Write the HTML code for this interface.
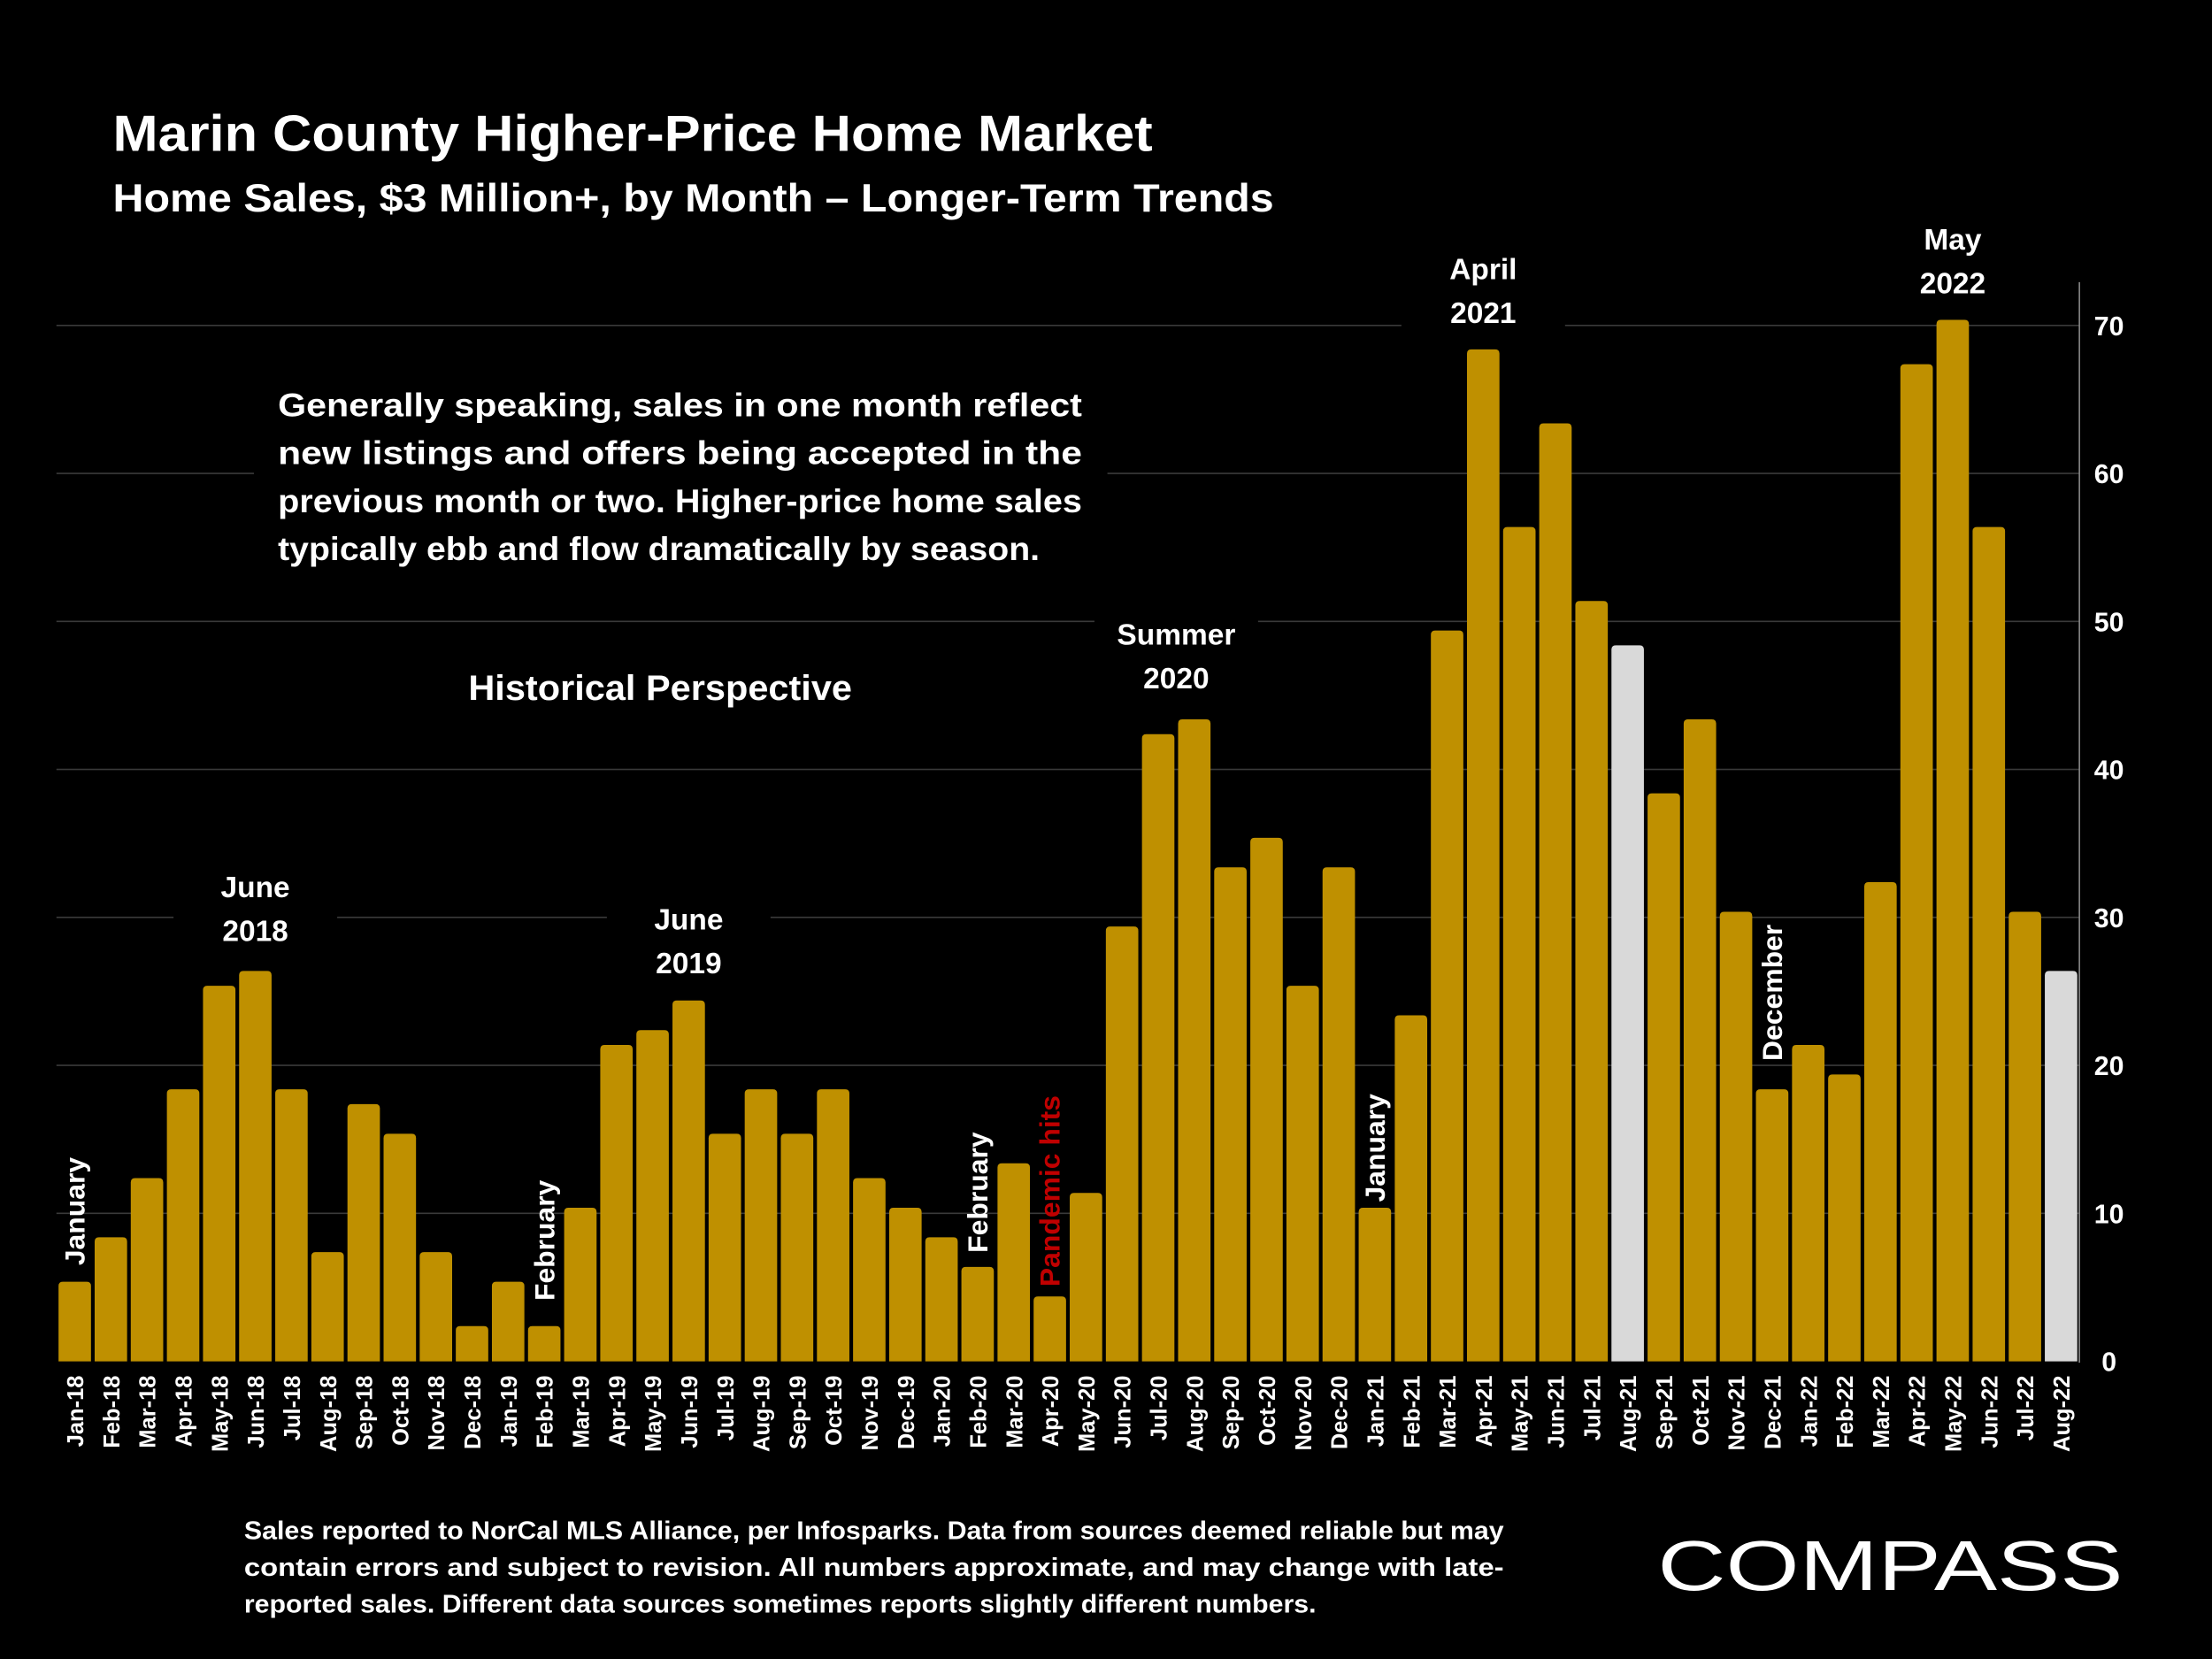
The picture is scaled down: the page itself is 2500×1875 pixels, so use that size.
<!DOCTYPE html>
<html><head><meta charset="utf-8"><style>
html,body{margin:0;padding:0;background:#000;}
svg{display:block;}
text{font-family:"Liberation Sans",sans-serif;font-weight:bold;fill:#fff;}
</style></head><body>
<svg id="chart" width="2500" height="1875" viewBox="0 0 1568 1176" xmlns="http://www.w3.org/2000/svg">
<rect width="1568" height="1176" fill="#000"/>
<g id="grid"></g>
<g id="bars"></g>
<g id="xlabels"></g>
<g id="ylabels"></g>
<line x1="1474" y1="200" x2="1474" y2="966" stroke="#888" stroke-width="1"/>
<text x="80" y="107" font-size="36" textLength="737" lengthAdjust="spacingAndGlyphs">Marin County Higher-Price Home Market</text>
<text x="80" y="150" font-size="28" textLength="823" lengthAdjust="spacingAndGlyphs">Home Sales, $3 Million+, by Month – Longer-Term Trends</text>
<rect x="180" y="262" width="605" height="150" fill="#000"/>
<g font-size="23">
<text x="197" y="295" textLength="570" lengthAdjust="spacingAndGlyphs">Generally speaking, sales in one month reflect</text>
<text x="197" y="329" textLength="570" lengthAdjust="spacingAndGlyphs">new listings and offers being accepted in the</text>
<text x="197" y="363" textLength="570" lengthAdjust="spacingAndGlyphs">previous month or two. Higher-price home sales</text>
<text x="197" y="397" textLength="540" lengthAdjust="spacingAndGlyphs">typically ebb and flow dramatically by season.</text>
</g>
<text x="468" y="496" font-size="25" text-anchor="middle" textLength="272" lengthAdjust="spacingAndGlyphs">Historical Perspective</text>
<g id="annots" font-size="21" text-anchor="middle"></g>
<g font-size="18">
<text x="173" y="1091" textLength="893" lengthAdjust="spacingAndGlyphs">Sales reported to NorCal MLS Alliance, per Infosparks. Data from sources deemed reliable but may</text>
<text x="173" y="1117" textLength="893" lengthAdjust="spacingAndGlyphs">contain errors and subject to revision. All numbers approximate, and may change with late-</text>
<text x="173" y="1143" textLength="760" lengthAdjust="spacingAndGlyphs">reported sales. Different data sources sometimes reports slightly different numbers.</text>
</g>
<text x="1340" y="1127" font-size="50" text-anchor="middle" textLength="330" lengthAdjust="spacingAndGlyphs" style="font-weight:normal">COMPASS</text>
<script>
const categories=["Jan-18","Feb-18","Mar-18","Apr-18","May-18","Jun-18","Jul-18","Aug-18","Sep-18","Oct-18","Nov-18","Dec-18","Jan-19","Feb-19","Mar-19","Apr-19","May-19","Jun-19","Jul-19","Aug-19","Sep-19","Oct-19","Nov-19","Dec-19","Jan-20","Feb-20","Mar-20","Apr-20","May-20","Jun-20","Jul-20","Aug-20","Sep-20","Oct-20","Nov-20","Dec-20","Jan-21","Feb-21","Mar-21","Apr-21","May-21","Jun-21","Jul-21","Aug-21","Sep-21","Oct-21","Nov-21","Dec-21","Jan-22","Feb-22","Mar-22","Apr-22","May-22","Jun-22","Jul-22","Aug-22"];
const sales=[5,8,12,18,25,26,18,7,17,15,7,2,5,2,10,21,22,24,15,18,15,18,12,10,8,6,13,4,11,29,42,43,33,35,25,33,10,23,49,68,56,63,51,48,38,43,30,18,21,19,32,67,70,56,30,26];
const partialMonths=["Aug-21","Aug-22"];
const yTicks=[0,10,20,30,40,50,60,70];
const NS="http://www.w3.org/2000/svg";
const y0=965,yPer=10.49,x0=53,step=25.6,bw=23;
const yS=v=>y0-v*yPer;
const xS=i=>x0+i*step;
function mk(tag,attrs,parent){const e=document.createElementNS(NS,tag);for(const k in attrs)e.setAttribute(k,attrs[k]);parent.appendChild(e);return e;}
const grid=document.getElementById('grid'),bars=document.getElementById('bars'),xl=document.getElementById('xlabels'),yl=document.getElementById('ylabels'),an=document.getElementById('annots');
yTicks.forEach(t=>{
 if(t>0){const l=mk('line',{x1:40,x2:1474,y1:yS(t),y2:yS(t),stroke:'#3a3a3a','stroke-width':1},grid);
 
 }
 const tx=mk('text',{x:1495,y:yS(t)+7,'font-size':19,'text-anchor':'middle'},yl);tx.textContent=t;
 
 
});
categories.forEach((c,i)=>{
 const v=sales[i],x=xS(i)-bw/2,top=yS(v)-4,r=3;
 const p=mk('path',{d:`M${x},${y0} L${x},${top+r} Q${x},${top} ${x+r},${top} L${x+bw-r},${top} Q${x+bw},${top} ${x+bw},${top+r} L${x+bw},${y0} Z`,fill:partialMonths.includes(c)?'#D9D9D9':'#BF9000'},bars);
 
 
 const t=mk('text',{x:0,y:0,'font-size':16,'text-anchor':'end',transform:`translate(${xS(i)+6},975) rotate(-90)`},xl);t.textContent=c;
 
 
});
const hAnn=[["Jun-18",["June","2018"],629],["Jun-19",["June","2019"],652],["Aug-20",["Summer","2020"],450],["Apr-21",["April","2021"],191],["May-22",["May","2022"],170]];
hAnn.forEach(([c,lines,ty])=>{
 let i=categories.indexOf(c);let cx=xS(i);if(c==="Aug-20")cx=(xS(i)+xS(i-1))/2;
 const bg=mk('rect',{x:cx-58,y:ty-24,width:116,height:68,fill:'#000'},an);
 
 
 lines.forEach((s,k)=>{const t=mk('text',{x:cx,y:ty+k*31+7},an);t.textContent=s;
 
 });
});
const vAnn=[["Jan-18","January",897,'#fff'],["Feb-19","February",922,'#fff'],["Feb-20","February",888,'#fff'],["Apr-20","Pandemic hits",912,'#C00000'],["Jan-21","January",852,'#fff'],["Dec-21","December",752,'#fff']];
vAnn.forEach(([c,s,by,col])=>{
 const i=categories.indexOf(c);
 const t=mk('text',{x:0,y:0,'font-size':20,'text-anchor':'start',style:'fill:'+col,transform:`translate(${xS(i)+7},${by}) rotate(-90)`},an);t.textContent=s;
 
 
});
</script>
</svg>
</body></html>
